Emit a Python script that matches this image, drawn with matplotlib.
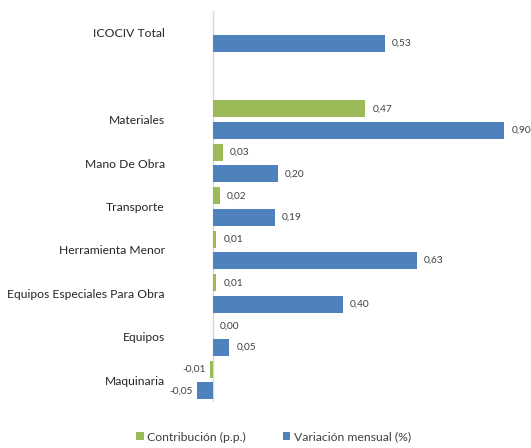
import numpy as np
import matplotlib
matplotlib.use("Agg")
from matplotlib import pyplot as plt

plt.rcParams['font.family'] = ['Lato', 'DejaVu Sans']

categories = ['ICOCIV Total', '', 'Materiales', 'Mano De Obra', 'Transporte',
              'Herramienta Menor', 'Equipos Especiales Para Obra', 'Equipos', 'Maquinaria']
contribucion = [np.nan, np.nan, 0.47, 0.03, 0.02, 0.01, 0.01, 0.00, -0.01]
variacion = [0.53, np.nan, 0.90, 0.20, 0.19, 0.63, 0.40, 0.05, -0.05]

GREEN = '#9BBB59'
BLUE = '#4F81BD'

fig = plt.figure(figsize=(5.31, 4.48), dpi=100)
# axes: x from 180px to 520px, y from 11px to 402px (top-down)
ax = fig.add_axes([180 / 531, 1 - 402 / 448, 340 / 531, 391 / 448])

y = np.arange(len(categories))
h = 0.39
off = 0.245

ax.barh(y - off, contribucion, height=h, color=GREEN, label='Contribución (p.p.)')
ax.barh(y + off, variacion, height=h, color=BLUE, label='Variación mensual (%)')

def label(vals, ys):
    for v, yy in zip(vals, ys):
        if np.isnan(v):
            continue
        txt = f'{v:.2f}'.replace('.', ',')
        if v < 0:
            ax.text(v - 0.012, yy, txt, ha='right', va='center', fontsize=7.3, color='#404040')
        else:
            ax.text(v + 0.022, yy, txt, ha='left', va='center', fontsize=7.3, color='#404040')

label(contribucion, y - off)
label(variacion, y + off)

ax.set_ylim(len(categories) - 0.5, -0.5)
ax.set_xlim(-0.102, 0.948)
ax.axvline(0, color='#d9d9d9', lw=1, zorder=0)

ax.set_yticks(y)
ax.set_yticklabels(categories, fontsize=8.7, color='#262626')
ax.tick_params(axis='y', length=0, pad=11)
ax.set_xticks([])
for s in ax.spines.values():
    s.set_visible(False)

fig.legend(loc='center', bbox_to_anchor=(273.5 / 531, 1 - 437 / 448), ncol=2, frameon=False,
           fontsize=8.8, handlelength=0.6, handleheight=0.6, handletextpad=0.3,
           columnspacing=3.0, labelcolor='#404040')

fig.savefig('out.png', dpi=100)
